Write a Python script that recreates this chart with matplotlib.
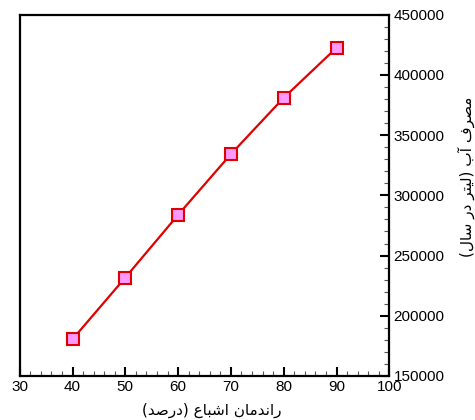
import matplotlib
matplotlib.use("Agg")
import matplotlib.pyplot as plt
from matplotlib.ticker import MultipleLocator

# Datos
raandemaan = [40, 50, 60, 70, 80, 90]
masrafAb = [180500, 231700, 283800, 334200, 381000, 422500]

ETIQUETA_X = "راندمان اشباع (درصد)"
ETIQUETA_Y = "مصرف آب (لیتر در سال)"

# Formas de presentacion: aislada, final, inicial, medial
FORMAS = {
    "ا": ("\uFE8D", "\uFE8E", None, None),
    "آ": ("\uFE81", "\uFE82", None, None),
    "د": ("\uFEA9", "\uFEAA", None, None),
    "ر": ("\uFEAD", "\uFEAE", None, None),
    "ب": ("\uFE8F", "\uFE90", "\uFE91", "\uFE92"),
    "ت": ("\uFE95", "\uFE96", "\uFE97", "\uFE98"),
    "س": ("\uFEB1", "\uFEB2", "\uFEB3", "\uFEB4"),
    "ش": ("\uFEB5", "\uFEB6", "\uFEB7", "\uFEB8"),
    "ص": ("\uFEB9", "\uFEBA", "\uFEBB", "\uFEBC"),
    "ع": ("\uFEC9", "\uFECA", "\uFECB", "\uFECC"),
    "ف": ("\uFED1", "\uFED2", "\uFED3", "\uFED4"),
    "ل": ("\uFEDD", "\uFEDE", "\uFEDF", "\uFEE0"),
    "م": ("\uFEE1", "\uFEE2", "\uFEE3", "\uFEE4"),
    "ن": ("\uFEE5", "\uFEE6", "\uFEE7", "\uFEE8"),
    "ی": ("\uFBFC", "\uFBFD", "\uFEF3", "\uFEF4"),
}
ESPEJO = {"(": ")", ")": "("}


def DarFormaPersa(texto):
    salida = []
    for i, c in enumerate(texto):
        if c not in FORMAS:
            salida.append(c)
            continue
        previo = texto[i - 1] if i > 0 else ""
        siguiente = texto[i + 1] if i + 1 < len(texto) else ""
        uneAntes = previo in FORMAS and FORMAS[previo][2] is not None
        uneDespues = siguiente in FORMAS and FORMAS[c][2] is not None
        iso, fin, ini, med = FORMAS[c]
        if uneAntes and uneDespues:
            salida.append(med)
        elif uneAntes:
            salida.append(fin)
        elif uneDespues:
            salida.append(ini)
        else:
            salida.append(iso)
    return "".join(ESPEJO.get(c, c) for c in reversed(salida))


plt.rcParams["font.family"] = ["Liberation Sans", "DejaVu Sans"]

fig = plt.figure(figsize=(4.75, 4.2), dpi=100)
ax = fig.add_axes([0.0415, 0.1048, 0.7781, 0.8602])

ax.plot(raandemaan, masrafAb, color="#e00000", linewidth=1.6,
        marker="s", markersize=8, markerfacecolor="#ff99ff",
        markeredgecolor="#e00000", markeredgewidth=1.5)

ax.set_xlim(30, 100)
ax.set_ylim(150000, 450000)
ax.xaxis.set_major_locator(MultipleLocator(10))
ax.xaxis.set_minor_locator(MultipleLocator(2))
ax.yaxis.set_major_locator(MultipleLocator(50000))
ax.yaxis.set_minor_locator(MultipleLocator(10000))

ax.yaxis.tick_right()
ax.tick_params(axis="x", which="both", direction="in", bottom=True, top=False,
               labelsize=11, pad=3)
ax.tick_params(axis="y", which="both", direction="in", right=True, left=False,
               labelright=True, labelleft=False, labelsize=11, pad=3)
ax.tick_params(which="major", length=6.5, width=1.5)
ax.tick_params(which="minor", length=3.5, width=0.8, color="#555555")

for lado in ax.spines.values():
    lado.set_linewidth(1.6)

fig.text(212 / 475, 1 - 410 / 420, DarFormaPersa(ETIQUETA_X), family="DejaVu Sans",
         fontsize=11, ha="center", va="center")
fig.text(466 / 475, 1 - 177 / 420, DarFormaPersa(ETIQUETA_Y), family="DejaVu Sans",
         fontsize=11, ha="center", va="center", rotation=90)

fig.savefig("out.png", dpi=100)
